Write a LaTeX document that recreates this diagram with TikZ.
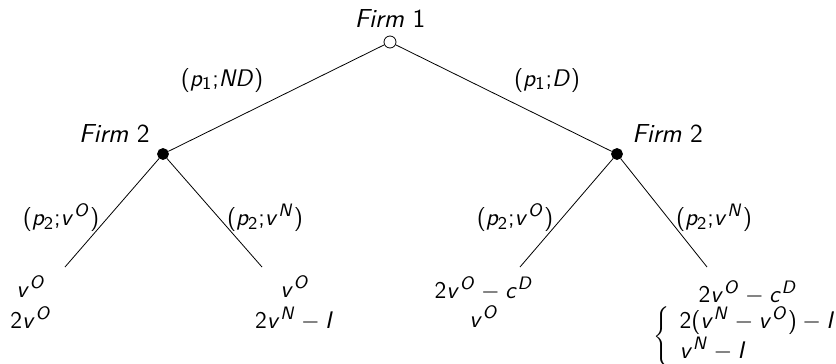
\documentclass[tikz,border=0pt]{standalone}
\renewcommand{\familydefault}{\sfdefault}
\DeclareSymbolFont{letters}{OT1}{cmss}{m}{sl}
\DeclareSymbolFont{operators}{OT1}{cmss}{m}{n}
\begin{document}
\begin{tikzpicture}[
    x=0.5pt, y=-0.5pt,
    every node/.style={font=\fontsize{13}{15}\selectfont},
    firstmove/.style={circle, draw, fill=white, inner sep=0pt, minimum size=6pt},
    secondmove/.style={circle, draw, fill=black, inner sep=0pt, minimum size=5.5pt},
    movelabel/.style={inner sep=0pt},
    payoff/.style={inner sep=0pt, anchor=base}]
  \useasboundingbox (0,0) rectangle (836,364);
  % decision nodes
  \node[firstmove] (f1) at (390,42) {};
  \node[secondmove] (f2l) at (163,154) {};
  \node[secondmove] (f2r) at (617,154) {};
  \node[movelabel, anchor=base] (t1) at (390,27) {\textit{Firm} 1};
  \node[movelabel, anchor=base east] (t2l) at (150,142) {\textit{Firm} 2};
  \node[movelabel, anchor=base west] (t2r) at (632,142) {\textit{Firm} 2};
  % end points
  \coordinate (e1) at (65,267);
  \coordinate (e2) at (262,267);
  \coordinate (e3) at (520,267);
  \coordinate (e4) at (707,267);
  \draw (f1) -- (f2l);
  \draw (f1) -- (f2r);
  \draw (f2l) -- (e1);
  \draw (f2l) -- (e2);
  \draw (f2r) -- (e3);
  \draw (f2r) -- (e4);
  % actions
  \node[movelabel] (a1) at (222,80) {$(p_1{;}ND)$};
  \node[movelabel] (a2) at (547,80) {$(p_1{;}D)$};
  \node[movelabel] (a3) at (61,218) {$(p_2{;}v^O)$};
  \node[movelabel] (a4) at (265,218) {$(p_2{;}v^N)$};
  \node[movelabel] (a5) at (515,218) {$(p_2{;}v^O)$};
  \node[movelabel] (a6) at (714,218) {$(p_2{;}v^N)$};
  % payoffs
  \node[payoff] (u11) at (31,297) {$v^O$};
  \node[payoff] (u12) at (31,328) {$2v^O$};
  \node[payoff] (u21) at (295,297) {$v^O$};
  \node[payoff] (u22) at (295,328) {$2v^N-I$};
  \node[payoff] (u31) at (484,298) {$2v^O-c^D$};
  \node[payoff] (u32) at (484,327) {$v^O$};
  \node[payoff] (u41) at (748,302) {$2v^O-c^D$};
  \node[payoff, anchor=base west] (u42) at (653,343)
    {$\left\{\begin{array}{l} 2(v^N-v^O)-I\\ v^N-I\end{array}\right.$};
\end{tikzpicture}
\end{document}
